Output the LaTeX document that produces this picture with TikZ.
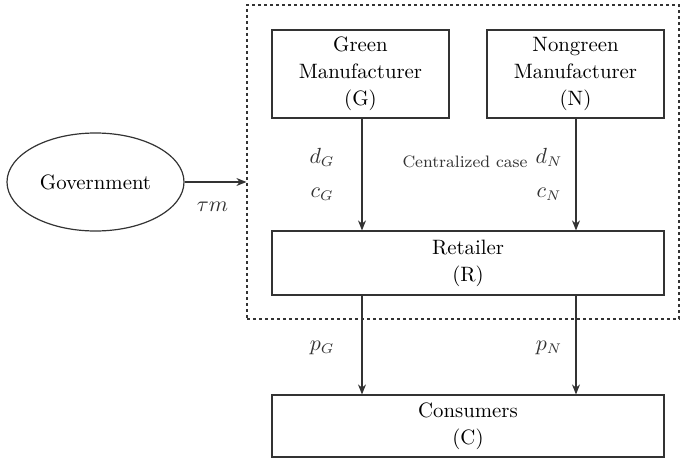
\documentclass[tikz,border=0pt]{standalone}
\usepackage{tikz}
\usetikzlibrary{arrows.meta, positioning, shapes.geometric}

\tikzstyle{agent} = [rectangle, draw=black!80, line width=0.6pt, inner sep=0pt, align=center, font=\fontsize{10.4}{13.5}\selectfont]
\tikzstyle{party} = [ellipse, draw=black!80, line width=0.6pt, inner sep=0pt, minimum width=88.5pt, minimum height=49pt, font=\fontsize{10.4}{13.5}\selectfont]
\tikzstyle{arrow} = [line width=0.6pt, draw=black!80, -{Stealth[length=5pt,width=4pt]}]
\tikzstyle{lbl} = [font=\fontsize{10.5}{13}\selectfont, text=black!80]

\begin{document}
\begin{tikzpicture}[x=0.5pt, y=-0.5pt]
\useasboundingbox (0,0) rectangle (680,461);

% ===== CENTRALIZED CASE (DASHED) =====
\node (central) [draw=black!80, dash pattern=on 1.6pt off 1.4pt, line width=0.6pt, minimum width=216pt, minimum height=157pt, inner sep=0pt] at (463,162) {};

% ===== AGENTS =====
\node (green) [agent, minimum width=88.5pt, minimum height=44pt] at (360.5,74) {Green\\Manufacturer\\(G)};
\node (nongreen) [agent, minimum width=88.5pt, minimum height=44pt] at (575.5,74) {Nongreen\\Manufacturer\\(N)};
\node (retailer) [agent, minimum width=196pt, minimum height=32pt] at (468,263) {Retailer\\(R)};
\node (consumers) [agent, minimum width=196pt, minimum height=31pt] at (468,426) {Consumers\\(C)};
\node (gov) [party] at (95.5,182) {Government};

\node (casetxt) [font=\fontsize{8.3}{10}\selectfont, text=black!80] at (465,162) {Centralized case};

% ===== ARROWS =====
\draw [arrow] (gov.east) -- node[lbl, pos=0.45, yshift=-12.5pt] {$\tau m$} (gov.east -| central.west);

\draw [arrow] (green.south -| 362,0) -- node[lbl, pos=0.35, xshift=-20pt] {$d_G$} node[lbl, pos=0.68, xshift=-20pt] {$c_G$} (retailer.north -| 362,0);
\draw [arrow] (nongreen.south -| 576,0) -- node[lbl, pos=0.35, xshift=-13.5pt] {$d_N$} node[lbl, pos=0.68, xshift=-13.5pt] {$c_N$} (retailer.north -| 576,0);

\draw [arrow] (retailer.south -| 362,0) -- node[lbl, pos=0.53, xshift=-20pt] {$p_G$} (consumers.north -| 362,0);
\draw [arrow] (retailer.south -| 576,0) -- node[lbl, pos=0.53, xshift=-13.5pt] {$p_N$} (consumers.north -| 576,0);

\end{tikzpicture}
\end{document}
